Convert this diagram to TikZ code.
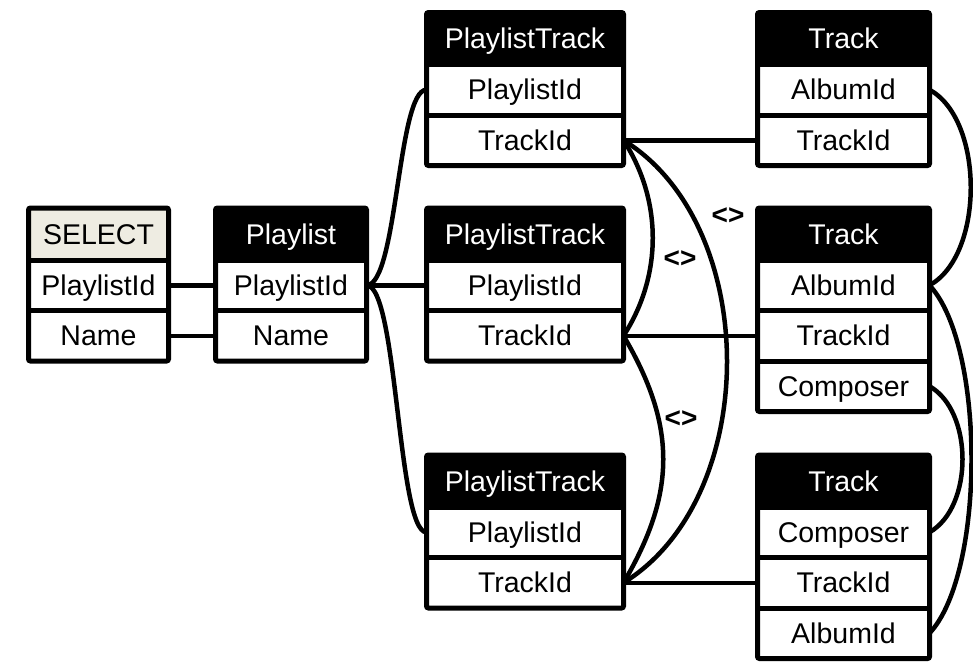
\documentclass[tikz,border=0pt]{standalone}
\usepackage{fontspec}
\setmainfont{Liberation Sans}
\definecolor{selhead}{RGB}{238,236,226}

\tikzset{
  basecell/.style={inner sep=0pt, outer sep=0pt, text height=22pt, text depth=2pt,
    font=\fontsize{28.5}{31}\selectfont},
  cellbox/.style={basecell, minimum height=50.5pt, fill=white, text=black},
  darkhead/.style={basecell, minimum height=52pt, fill=black, text=white},
  lighthead/.style={basecell, minimum height=52pt, fill=selhead, text=black},
  frame/.style={draw=black, line width=5pt, rounded corners=2pt},
  rowsep/.style={draw=black, line width=5pt},
  link/.style={draw=black, line width=4.5pt},
  neq/.style={inner sep=0pt, text height=19.6pt, text depth=0pt,
    font=\fontsize{28}{30}\selectfont\bfseries}
}

% #1 name, #2 left, #3 right, #4 top, #5 header style, #6 header text, #7 row texts
\newcommand\ertable[7]{%
  \pgfmathsetmacro\tw{#3-#2}
  \node[#5, minimum width=\tw pt, anchor=north west] (#1-h) at (#2,#4) {#6};
  \foreach \txt [count=\i] in {#7} {
    \node[cellbox, minimum width=\tw pt, anchor=north west] (#1-\i) at (#2,{#4+52+(\i-1)*50.5}) {\txt};
    \draw[rowsep] (#2,{#4+52+(\i-1)*50.5}) -- (#3,{#4+52+(\i-1)*50.5});
    \xdef\nrows{\i}
  }
  \draw[frame] (#2,#4) rectangle (#3,{#4+52+\nrows*50.5});
}

\begin{document}
\begin{tikzpicture}[x=1pt,y=-1pt]
\useasboundingbox (0,0) rectangle (973,664);

% tables
\ertable{sel}{28.5}{168.5}{208}{lighthead}{SELECT}{PlaylistId,Name}
\ertable{pl}{215.5}{366.5}{208}{darkhead}{Playlist}{PlaylistId,Name}
\ertable{pta}{426.5}{623.5}{12.5}{darkhead}{PlaylistTrack}{PlaylistId,TrackId}
\ertable{ptb}{426.5}{623.5}{208}{darkhead}{PlaylistTrack}{PlaylistId,TrackId}
\ertable{ptc}{426.5}{623.5}{455}{darkhead}{PlaylistTrack}{PlaylistId,TrackId}
\ertable{tra}{757.5}{929.5}{12.5}{darkhead}{Track}{AlbumId,TrackId}
\ertable{trb}{757.5}{929.5}{208}{darkhead}{Track}{AlbumId,TrackId,Composer}
\ertable{trc}{757.5}{929.5}{455}{darkhead}{Track}{Composer,TrackId,AlbumId}

% SELECT to Playlist
\draw[link] (sel-1.east) -- (pl-1.west);
\draw[link] (sel-2.east) -- (pl-2.west);

% Playlist fan-out to the three PlaylistTrack tables
\draw[link] (pl-1.east) .. controls +(31,0) and +(-29,0) .. (pta-1.west);
\draw[link] (pl-1.east) -- (ptb-1.west);
\draw[link] (pl-1.east) .. controls +(31,0) and +(-29,0) .. (ptc-1.west);

% PlaylistTrack to Track
\draw[link] (pta-2.east) -- (tra-2.west);
\draw[link] (ptb-2.east) -- (trb-2.west);
\draw[link] (ptc-2.east) -- (trc-2.west);

% inequality conditions between the TrackId columns
\draw[link] (pta-2.east) .. controls +(39,60) and +(39,-60) .. (ptb-2.east);
\draw[link] (ptb-2.east) .. controls +(53,90) and +(53,-90) .. (ptc-2.east);
\draw[link] (pta-2.east) .. controls +(138,85) and +(138,-85) .. (ptc-2.east);
\node[neq] (neqab) at (680,258) {<>};
\node[neq] (neqac) at (728,215) {<>};
\node[neq] (neqbc) at (681,418) {<>};

% joins between the Track tables
\draw[link] (tra-1.east) .. controls +(55,30) and +(55,-30) .. (trb-1.east);
\draw[link] (trb-1.east) .. controls +(56,60) and +(56,-60) .. (trc-3.east);
\draw[link] (trb-3.east) .. controls +(44,25) and +(44,-25) .. (trc-1.east);
\end{tikzpicture}
\end{document}
